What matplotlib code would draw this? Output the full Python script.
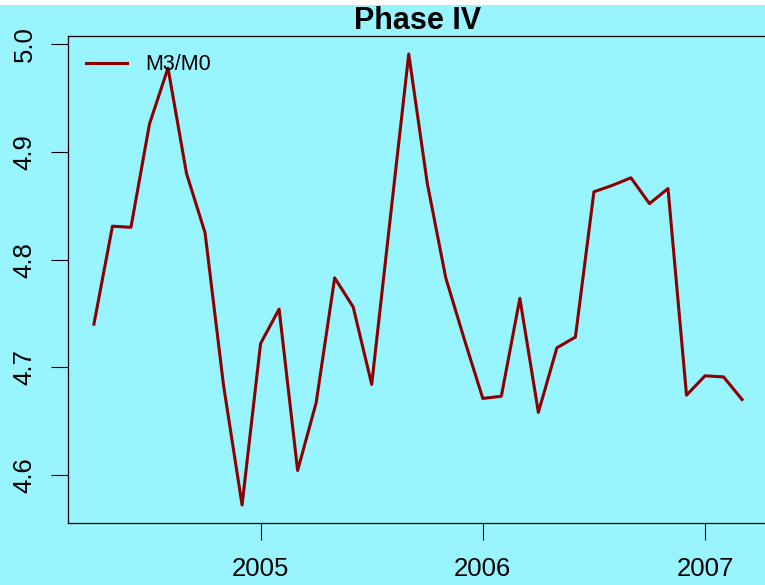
import matplotlib
matplotlib.use("Agg")
import matplotlib.pyplot as plt
from matplotlib.patches import Rectangle

# monthly M3/M0 ratio, April 2004 .. March 2007
start_year = 2004
start_month = 4
ratio = [4.740, 4.831, 4.830, 4.926, 4.978, 4.880, 4.825, 4.683, 4.572,
         4.722, 4.754, 4.604, 4.667, 4.783, 4.756, 4.684, 4.838, 4.991,
         4.871, 4.783, 4.726, 4.671, 4.673, 4.764, 4.658, 4.718, 4.728,
         4.863, 4.869, 4.876, 4.852, 4.866, 4.674, 4.692, 4.691, 4.670]
x_ticks = [2005, 2006, 2007]
y_ticks = [4.6, 4.7, 4.8, 4.9, 5.0]

# time as decimal year, like an R ts object
t = [start_year + (start_month - 1 + i) / 12 for i in range(len(ratio))]

bg = "#98F5FF"
plt.rcParams['font.family'] = ['Liberation Sans', 'DejaVu Sans']

W, H = 765, 585
fig = plt.figure(figsize=(W / 100, H / 100), dpi=100, facecolor=bg)
# thin white strip at the very top of the picture
fig.patches.append(Rectangle((0, 1 - 5 / H), 1, 5 / H, transform=fig.transFigure,
                             facecolor="white", edgecolor="none", zorder=-1))

ax = fig.add_axes([68 / W, (H - 523) / H, (768 - 68) / W, (523 - 36) / H])
ax.set_facecolor(bg)

ax.plot(t, ratio, color="#8B0000", lw=2.2, label="M3/M0")

# R style axis ranges (4% padding)
xr = t[-1] - t[0]
yr = max(ratio) - min(ratio)
ax.set_xlim(t[0] - 0.04 * xr, t[-1] + 0.04 * xr)
ax.set_ylim(min(ratio) - 0.04 * yr, max(ratio) + 0.04 * yr)

ax.set_xticks(x_ticks)
ax.set_xticklabels([str(v) for v in x_ticks])
ax.set_yticks(y_ticks)
ax.set_yticklabels([f"{v:.1f}" for v in y_ticks], rotation=90, va="center")

ax.tick_params(axis="both", direction="out", length=12.5, width=0.8,
               labelsize=18.5, colors="black")
ax.tick_params(axis="x", pad=12)
ax.tick_params(axis="y", pad=10)
for s in ax.spines.values():
    s.set_linewidth(0.9)

ax.set_title("Phase IV", fontsize=22, fontweight="bold", pad=4)

ax.legend(loc="upper left", frameon=False, fontsize=15.5, handlelength=1.9,
          handletextpad=0.85, borderaxespad=0.45)

fig.savefig("out.png", dpi=100, facecolor=bg)
